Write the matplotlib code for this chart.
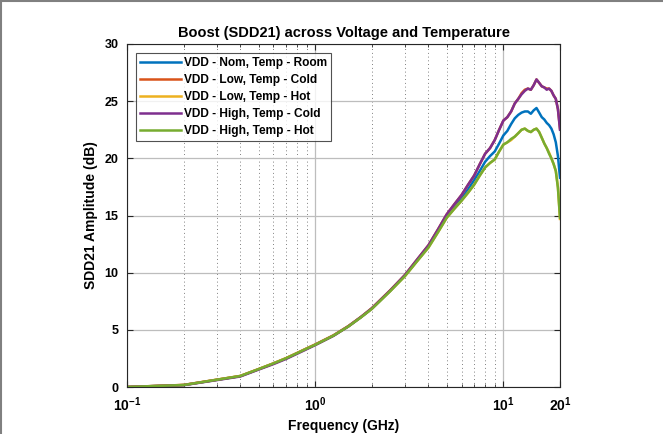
import numpy as np
import matplotlib
matplotlib.use("Agg")
import matplotlib.pyplot as plt
from matplotlib.lines import Line2D
from matplotlib.ticker import FixedLocator, NullFormatter

plt.rcParams['font.family'] = ['Liberation Sans', 'DejaVu Sans']
plt.rcParams['font.weight'] = 'bold'
plt.rcParams['mathtext.fontset'] = 'custom'
plt.rcParams['mathtext.rm'] = 'Liberation Sans:bold'
plt.rcParams['mathtext.bf'] = 'Liberation Sans:bold'

# frequency points (GHz)
freq = [0.1, 0.2, 0.4, 0.5, 0.6, 0.7, 0.8, 0.9, 1.0, 1.25, 1.5, 1.75, 2.0,
        2.5, 3.0, 3.5, 4.0, 4.5, 5.0, 5.5, 6.0, 6.5, 7.0, 7.5, 8.0, 8.5,
        9.0, 9.5, 10.0, 10.5, 11.0, 11.5, 12.0, 12.5, 13.0, 13.5, 14.0,
        14.5, 15.0, 15.5, 16.0, 16.5, 17.0, 17.5, 18.0, 18.5, 19.0, 19.5, 20.0]

# SDD21 amplitude (dB)
nom_room = [0.0, 0.17, 0.95, 1.55, 2.05, 2.5, 2.95, 3.35, 3.7, 4.5, 5.3, 6.1, 6.85,
            8.4, 9.75, 11.1, 12.3, 13.7, 15.0, 15.8, 16.5, 17.3, 18.1, 18.9, 19.7, 20.2,
            20.6, 21.3, 22.0, 22.4, 23.0, 23.5, 23.8, 24.0, 24.1, 24.1, 23.9,
            24.2, 24.4, 24.0, 23.6, 23.4, 23.1, 22.9, 22.6, 22.1, 21.4, 20.2, 18.3]
low_cold = [0.0, 0.18, 0.96, 1.56, 2.06, 2.52, 2.97, 3.37, 3.72, 4.52, 5.33, 6.13, 6.9,
            8.45, 9.8, 11.2, 12.4, 13.8, 15.1, 16.0, 16.8, 17.7, 18.5, 19.5, 20.4, 20.9,
            21.6, 22.5, 23.3, 23.6, 24.1, 24.8, 25.2, 25.7, 26.0, 26.1, 26.0,
            26.4, 26.9, 26.6, 26.3, 26.2, 26.1, 26.1, 25.9, 25.5, 25.2, 24.3, 22.6]
low_hot = [0.0, 0.18, 0.97, 1.57, 2.07, 2.52, 2.96, 3.36, 3.7, 4.5, 5.3, 6.1, 6.84,
           8.38, 9.7, 11.05, 12.2, 13.55, 14.8, 15.6, 16.3, 17.0, 17.7, 18.5, 19.2, 19.6,
           19.9, 20.6, 21.2, 21.4, 21.6, 21.9, 22.2, 22.5, 22.6, 22.4, 22.3,
           22.5, 22.6, 22.3, 21.8, 21.3, 20.9, 20.5, 20.0, 19.5, 18.9, 17.5, 14.7]
high_cold = [0.0, 0.16, 0.92, 1.52, 2.0, 2.45, 2.9, 3.3, 3.66, 4.47, 5.3, 6.12, 6.88,
             8.43, 9.8, 11.2, 12.4, 13.8, 15.1, 16.0, 16.8, 17.7, 18.5, 19.5, 20.4, 20.9,
             21.6, 22.5, 23.3, 23.6, 24.1, 24.8, 25.2, 25.6, 25.9, 26.1, 26.0,
             26.4, 26.9, 26.6, 26.3, 26.2, 26.0, 26.1, 25.9, 25.5, 25.2, 24.3, 22.5]
high_hot = [0.0, 0.17, 0.96, 1.56, 2.06, 2.51, 2.95, 3.35, 3.69, 4.49, 5.29, 6.09, 6.83,
            8.37, 9.7, 11.05, 12.2, 13.55, 14.8, 15.6, 16.3, 17.0, 17.7, 18.5, 19.2, 19.6,
            19.9, 20.6, 21.2, 21.4, 21.7, 21.9, 22.2, 22.5, 22.6, 22.4, 22.3,
            22.5, 22.6, 22.3, 21.8, 21.3, 20.9, 20.4, 20.0, 19.5, 18.9, 17.4, 14.8]

labels = ['VDD - Nom, Temp - Room', 'VDD - Low, Temp - Cold', 'VDD - Low, Temp - Hot',
          'VDD - High, Temp - Cold', 'VDD - High, Temp - Hot']
colors = ['#0072BD', '#D95319', '#EDB120', '#7E2F8E', '#77AC30']
series = [nom_room, low_cold, low_hot, high_cold, high_hot]

xticks = [0.1, 1, 10, 20]
xticklabels = [r'$\mathbf{10^{-1}}$', r'$\mathbf{10^{0}}$', r'$\mathbf{10^{1}}$', r'$\mathbf{20^{1}}$']
yticks = [0, 5, 10, 15, 20, 25, 30]

fig = plt.figure(figsize=(6.63, 4.34), dpi=100)
ax = fig.add_axes([127 / 663, 1 - 387 / 434, 433 / 663, 343 / 434])

for s, c, lab in zip(series, colors, labels):
    ax.plot(freq, s, color=c, lw=1.8, label=lab)

ax.set_xscale('log')
ax.set_xlim(0.1, 20)
ax.set_ylim(0, 30)
ax.set_xticks(xticks)
ax.set_xticklabels(xticklabels, fontsize=10)
minors = [m * 10.0 ** e for e in (-1, 0) for m in range(2, 10)]
ax.xaxis.set_minor_locator(FixedLocator(minors))
ax.xaxis.set_minor_formatter(NullFormatter())
ax.set_yticks(yticks)

# MATLAB style grid
ax.grid(True, which='major', color='#bdbdbd', lw=0.9, ls='-')
ax.grid(True, which='minor', axis='x', color='#555555', lw=0.6, ls=(0, (1, 3.5)))
ax.set_axisbelow(True)

ax.tick_params(which='both', direction='in', top=True, right=True, color='#262626')
ax.tick_params(which='major', length=4)
ax.tick_params(axis='y', which='major', labelsize=9, pad=6)
ax.tick_params(axis='x', which='major', pad=6)
ax.tick_params(which='minor', length=2)
for sp in ax.spines.values():
    sp.set_color('#262626')
    sp.set_linewidth(0.8)

ax.set_title('Boost (SDD21) across Voltage and Temperature', fontsize=10.5, fontweight='bold', pad=5)
ax.set_xlabel('Frequency (GHz)', fontsize=10, fontweight='bold', labelpad=4)
ax.set_ylabel('SDD21 Amplitude (dB)', fontsize=10, fontweight='bold', labelpad=5)

leg = ax.legend(loc='upper left', fontsize=8.6, frameon=True, fancybox=False,
                edgecolor='#262626', handlelength=3.4, handletextpad=0.25,
                labelspacing=0.42, borderpad=0.35, borderaxespad=0.75)
leg.get_frame().set_linewidth(0.8)
for t in leg.get_texts():
    t.set_fontweight('bold')

# gray border on the left and top of the figure
fig.add_artist(Line2D([0.001, 0.001], [0, 1], transform=fig.transFigure, color='#808080', lw=1.5))
fig.add_artist(Line2D([0, 1], [0.998, 0.998], transform=fig.transFigure, color='#808080', lw=1.5))

fig.savefig('out.png', dpi=100)
